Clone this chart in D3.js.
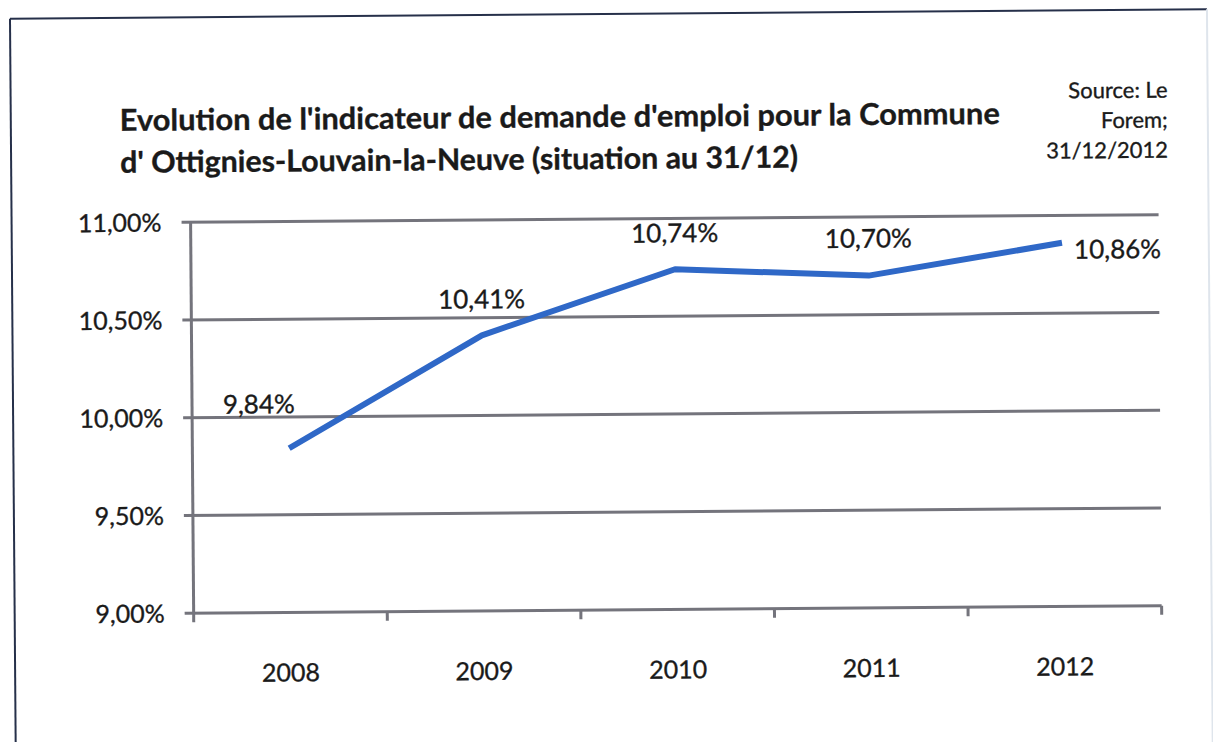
<!DOCTYPE html>
<html>
<head>
<meta charset="utf-8">
<script src="https://cdn.jsdelivr.net/npm/d3@7"></script>
<style>
  body { margin: 0; background: #fff; }
  text { font-family: Lato, "Open Sans", sans-serif; fill: #1a1a1a; stroke: #1a1a1a; stroke-width: 0.35px; }
</style>
</head>
<body>
<svg id="chart"></svg>
<script>
// data
const years = ["2008", "2009", "2010", "2011", "2012"];
const values = [9.84, 10.41, 10.74, 10.70, 10.86];
const valueLabels = ["9,84%", "10,41%", "10,74%", "10,70%", "10,86%"];
const yTicks = [9.0, 9.5, 10.0, 10.5, 11.0];
const yTickLabels = ["9,00%", "9,50%", "10,00%", "10,50%", "11,00%"];
const titleLines = [
    "Evolution de l'indicateur de demande d'emploi pour la Commune",
    "d' Ottignies-Louvain-la-Neuve (situation au 31/12)"
];
const sourceLines = ["Source: Le", "Forem;", "31/12/2012"];

const width = 1213;
const height = 742;

const svg = d3.select("#chart")
    .attr("width", width)
    .attr("height", height);

// the scanned original sits a little crooked, so tilt everything slightly
const g = svg.append("g")
    .attr("transform", "rotate(-0.45, 606, 400)");

// outer frame: dark top and left edge, faint right edge
g.append("line")
    .attr("x1", 13).attr("x2", 1210).attr("y1", 14).attr("y2", 14)
    .style("stroke", "#26304a").style("stroke-width", 2);
g.append("line")
    .attr("x1", 13).attr("x2", 13).attr("y1", 14).attr("y2", 760)
    .style("stroke", "#26304a").style("stroke-width", 2);
g.append("line")
    .attr("x1", 1210).attr("x2", 1210).attr("y1", 14).attr("y2", 760)
    .style("stroke", "#dfe5ec").style("stroke-width", 2);

// title
g.selectAll(".title")
    .data(titleLines)
    .enter().append("text")
    .attr("class", "title")
    .attr("x", 122)
    .attr("y", (d, i) => 127 + i * 42)
    .attr("textLength", (d, i) => i === 0 ? 880 : 678)
    .attr("lengthAdjust", "spacingAndGlyphs")
    .style("font-size", "30px")
    .style("font-weight", "bold")
    .text(d => d);

// source note
g.selectAll(".source")
    .data(sourceLines)
    .enter().append("text")
    .attr("class", "source")
    .attr("x", 1170)
    .attr("y", (d, i) => 102 + i * 30)
    .attr("text-anchor", "end")
    .style("font-size", "22px")
    .text(d => d);

const plotLeft = 192, plotRight = 1160, plotTop = 219, plotBottom = 610;

const x = d3.scaleBand().domain(years).range([plotLeft, plotRight]);
const y = d3.scaleLinear().domain([9, 11]).range([plotBottom, plotTop]);

const gridColor = "#74747c";

// horizontal gridlines
g.selectAll(".grid")
    .data(yTicks)
    .enter().append("line")
    .attr("x1", plotLeft - 9).attr("x2", plotRight)
    .attr("y1", d => y(d)).attr("y2", d => y(d))
    .style("stroke", gridColor)
    .style("stroke-width", 3);

// y axis line
g.append("line")
    .attr("x1", plotLeft).attr("x2", plotLeft)
    .attr("y1", plotTop).attr("y2", plotBottom)
    .style("stroke", gridColor)
    .style("stroke-width", 3);

// x tick marks at band edges
const edges = years.map(d => x(d)).concat([plotRight]);
g.selectAll(".xtick")
    .data(edges)
    .enter().append("line")
    .attr("x1", d => d).attr("x2", d => d)
    .attr("y1", plotBottom).attr("y2", plotBottom + 9)
    .style("stroke", gridColor)
    .style("stroke-width", 3);

// y tick labels
g.selectAll(".ylab")
    .data(yTicks)
    .enter().append("text")
    .attr("x", 163)
    .attr("y", d => y(d))
    .attr("dy", "0.36em")
    .attr("text-anchor", "end")
    .style("font-size", "25px")
    .text((d, i) => yTickLabels[i]);

// x labels
g.selectAll(".xlab")
    .data(years)
    .enter().append("text")
    .attr("x", d => x(d) + x.bandwidth() / 2)
    .attr("y", 679)
    .attr("text-anchor", "middle")
    .style("font-size", "25px")
    .text(d => d);

// line
const points = years.map((d, i) => ({ year: d, value: values[i], label: valueLabels[i] }));

const line = d3.line()
    .x(d => x(d.year) + x.bandwidth() / 2)
    .y(d => y(d.value));

g.append("path")
    .datum(points)
    .attr("d", line)
    .attr("fill", "none")
    .style("stroke", "#2f68c7")
    .style("stroke-width", 6)
    .style("stroke-linejoin", "round");

// data labels: above, except the last one which sits to the right
const labelDx = [-30, 0, 0, 0, 12];
const labelDy = [-35, -27, -27, -28, 16];
g.selectAll(".vlab")
    .data(points)
    .enter().append("text")
    .attr("x", (d, i) => x(d.year) + x.bandwidth() / 2 + labelDx[i])
    .attr("y", (d, i) => y(d.value) + labelDy[i])
    .attr("text-anchor", (d, i) => i === points.length - 1 ? "start" : "middle")
    .style("font-size", "26px")
    .text(d => d.label);
</script>
</body>
</html>
